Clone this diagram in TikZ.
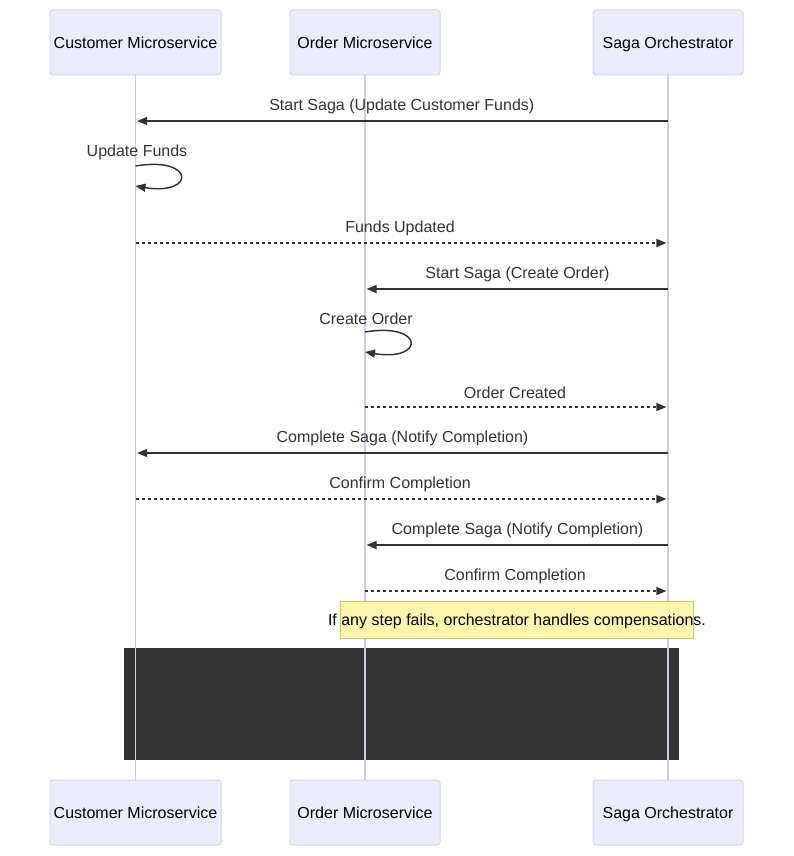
\documentclass[tikz,border=0pt]{standalone}
\usepackage{fontspec}
\setmainfont{Liberation Sans}
\usetikzlibrary{arrows.meta}

\definecolor{actorfill}{HTML}{ECECFF}
\definecolor{actorline}{HTML}{D6D3F0}
\definecolor{lifecol}{HTML}{CFCAE8}
\definecolor{msgcol}{HTML}{333333}
\definecolor{notefill}{HTML}{FFF5AD}
\definecolor{noteline}{HTML}{C9C76A}
\definecolor{blockfill}{HTML}{333333}

\tikzset{
  fixtext/.style={text height=8.6pt, text depth=2.5pt, font=\fontsize{12}{14}\selectfont},
  actor/.style={draw=actorline, fill=actorfill, line width=0.75pt, rounded corners=2.25pt,
    minimum height=48.75pt, inner sep=0pt, text=black, fixtext, text height=11.6pt},
  msgtext/.style={text=msgcol, inner sep=0pt, fixtext, text height=10.1pt},
  lifeline/.style={draw=lifecol, line width=1.3pt},
  msgsolid/.style={draw=msgcol, line width=1.1pt, -{Triangle[length=7.5pt,width=6pt]}, shorten >=1.2pt},
  msgdotted/.style={msgsolid, dash pattern=on 2.25pt off 2.25pt},
  selfloop/.style={draw=msgcol, line width=1.1pt, -{Triangle[length=7.5pt,width=6pt]}}
}

\begin{document}
\begin{tikzpicture}[x=0.75pt, y=-0.75pt]
  \useasboundingbox (0,0) rectangle (793,856);

  % Dark block
  \node[fill=blockfill, minimum width=416.25pt, minimum height=84pt, inner sep=0pt] (block) at (401.5,704) {};

  % Actors (top and bottom)
  \node[actor, minimum width=128.25pt] (custtop) at (135.5,42.5) {Customer Microservice};
  \node[actor, minimum width=112.5pt] (ordertop) at (365,42.5) {Order Microservice};
  \node[actor, minimum width=112.5pt] (sagatop) at (668,42.5) {Saga Orchestrator};
  \node[actor, minimum width=128.25pt] (custbot) at (135.5,812.5) {Customer Microservice};
  \node[actor, minimum width=112.5pt] (orderbot) at (365,812.5) {Order Microservice};
  \node[actor, minimum width=112.5pt] (sagabot) at (668,812.5) {Saga Orchestrator};

  % Lifelines
  \draw[lifeline] (custtop) -- (custbot);
  \draw[lifeline] (ordertop) -- (orderbot);
  \draw[lifeline] (sagatop) -- (sagabot);

  % Message levels
  \coordinate (m1) at (0,121);
  \coordinate (s1a) at (0,166);
  \coordinate (s1b) at (0,186);
  \coordinate (m2) at (0,243);
  \coordinate (m3) at (0,289);
  \coordinate (s2a) at (0,332);
  \coordinate (s2b) at (0,352);
  \coordinate (m4) at (0,407);
  \coordinate (m5) at (0,453);
  \coordinate (m6) at (0,499);
  \coordinate (m7) at (0,545);
  \coordinate (m8) at (0,591);

  % Start saga on customer
  \node[msgtext] (l1) at (401.75,105) {Start Saga (Update Customer Funds)};
  \draw[msgsolid] (sagatop |- m1) -- (custtop |- m1);

  % Update funds (self)
  \node[msgtext] (ls1) at (137,151) {Update Funds};
  \draw[selfloop] (custtop |- s1a) .. controls +(60,-10) and +(60,10) .. (custtop |- s1b);

  \node[msgtext] (l2) at (400,227) {Funds Updated};
  \draw[msgdotted] (custtop |- m2) -- (sagatop |- m2);

  % Start saga on order
  \node[msgtext] (l3) at (517.5,273) {Start Saga (Create Order)};
  \draw[msgsolid] (sagatop |- m3) -- (ordertop |- m3);

  % Create order (self)
  \node[msgtext] (ls2) at (366,319) {Create Order};
  \draw[selfloop] (ordertop |- s2a) .. controls +(60,-10) and +(60,10) .. (ordertop |- s2b);

  \node[msgtext] (l4) at (515,393) {Order Created};
  \draw[msgdotted] (ordertop |- m4) -- (sagatop |- m4);

  % Completion
  \node[msgtext] (l5) at (402.5,437) {Complete Saga (Notify Completion)};
  \draw[msgsolid] (sagatop |- m5) -- (custtop |- m5);

  \node[msgtext] (l6) at (400,483) {Confirm Completion};
  \draw[msgdotted] (custtop |- m6) -- (sagatop |- m6);

  \node[msgtext] (l7) at (517.5,529) {Complete Saga (Notify Completion)};
  \draw[msgsolid] (sagatop |- m7) -- (ordertop |- m7);

  \node[msgtext] (l8) at (515,575) {Confirm Completion};
  \draw[msgdotted] (ordertop |- m8) -- (sagatop |- m8);

  % Note
  \node[draw=noteline, fill=notefill, line width=0.75pt, minimum width=264.75pt, minimum height=27.75pt, inner sep=0pt] (notebox) at (516.5,619.5) {};
  \node[inner sep=0pt, text=black, fixtext] (notetext) at (517,621) {If any step fails, orchestrator handles compensations.};
\end{tikzpicture}
\end{document}
